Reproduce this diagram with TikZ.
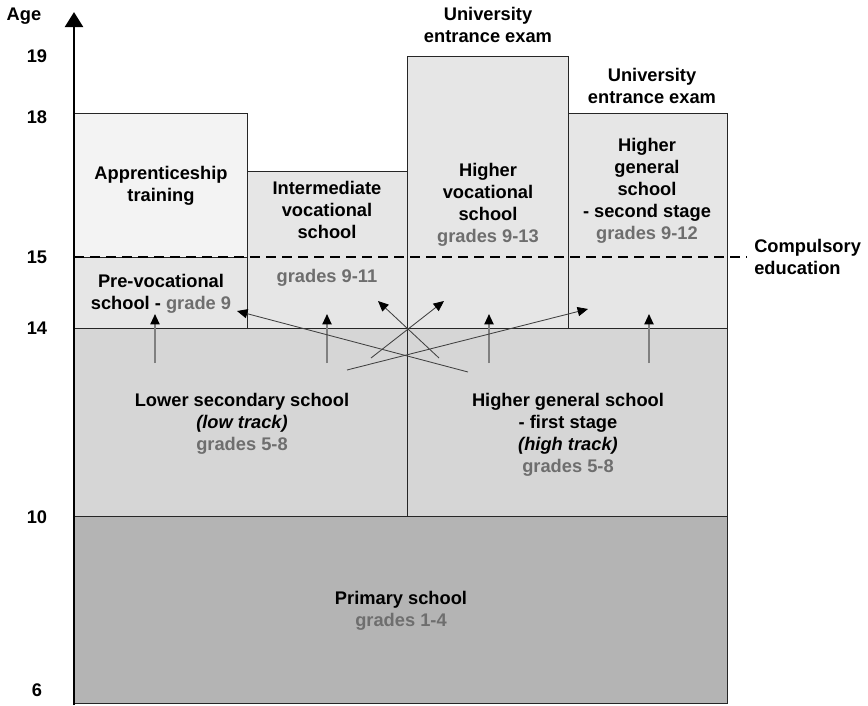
\documentclass[tikz,border=0pt]{standalone}
\usepackage{fontspec}
\setmainfont{Liberation Sans}
\usetikzlibrary{arrows.meta}
\definecolor{primbox}{HTML}{B4B4B4}
\definecolor{lowbox}{HTML}{D6D6D6}
\definecolor{midbox}{HTML}{E6E6E6}
\definecolor{apprbox}{HTML}{F3F3F3}
\definecolor{gtxt}{HTML}{6E6E6E}
\tikzstyle{box}=[draw=black!85,line width=0.7pt]
\tikzstyle{txt}=[font=\bfseries\fontsize{13}{15.6}\selectfont,align=center,inner sep=0pt]
\tikzstyle{trans}=[draw=black!75,line width=0.6pt,-{Triangle[length=2.6mm,width=2.3mm,color=black]}]
\tikzstyle{uptrans}=[trans,draw=black!50,line width=1.1pt]
\tikzstyle{axisline}=[draw=black,line width=2.1pt,-{Triangle[length=3.8mm,width=4.5mm]}]
\tikzstyle{compline}=[draw=black,line width=2.1pt,dash pattern=on 0.25cm off 0.15cm]

\begin{document}
\begin{tikzpicture}[x=0.025cm,y=-0.025cm]
\useasboundingbox (0,0) rectangle (868,705);

% Boxes
    \foreach \xa/\ya/\xb/\yb/\col in {74/516/727/703/primbox, 74/328/407/516/lowbox, 407/328/727/516/lowbox,
        74/113/247/257/apprbox, 74/257/247/328/midbox, 247/171/407/328/midbox,
        407/56/568/328/midbox, 568/113/727/328/midbox}
        \filldraw[box,fill=\col] (\xa,\ya) rectangle (\xb,\yb);

% Compulsory education line
   \coordinate (cl) at (74,257);
   \coordinate (cr) at (747,257);
   \draw[compline] (cl) -- (cr);

% Axis
   \coordinate (axbot) at (74,705);
   \coordinate (axtop) at (74,12);
   \draw[axisline] (axbot) -- (axtop);
   \node[txt] (agelbl) at (24,16) {Age};
    \foreach \yy/\age in {56/19, 117/18, 257/15, 328/14, 517/10, 690/6}
        \node[txt] (age\age) at (37,\yy) {\age};

% Transitions
    \foreach \name/\xx/\yy in {s1/155/363, t1/155/314, s2/327/363, t2/327/314,
        s3/489/363, t3/489/314, s4/649/363, t4/649/314,
        s5/347/370, t5/588/309, s6/468/372, t6/237/311,
        s7/371/358, t7/444/301, s8/439/358, t8/378/301}
        \coordinate (\name) at (\xx,\yy);
    \foreach \source/\dest in {s1/t1, s2/t2, s3/t3, s4/t4}
        \path[uptrans] (\source) -- (\dest);
    \foreach \source/\dest in {s5/t5, s6/t6, s7/t7, s8/t8}
        \path[trans] (\source) -- (\dest);

% Labels
   \node[txt] (exam1) at (488,25) {University\\entrance exam};
   \node[txt] (exam2) at (652,86) {University\\entrance exam};
   \node[txt] (appr) at (161,186) {Apprenticeship\\training};
   \node[txt] (prevoc) at (161,294) {Pre-vocational\\school - \textcolor{gtxt}{grade 9}};
   \node[txt] (intvoc) at (327,210) {Intermediate\\vocational\\school};
   \node[txt] (intgr) at (327,278) {\textcolor{gtxt}{grades 9-11}};
   \node[txt] (highvoc) at (488,205) {Higher\\vocational\\school\\\textcolor{gtxt}{grades 9-13}};
   \node[txt] (highgen2) at (647,191) {Higher\\general\\school\\- second stage\\\textcolor{gtxt}{grades 9-12}};
   \node[txt,anchor=west,align=left] (compuls) at (754,257) {Compulsory\\education};
   \node[txt] (lowsec) at (242,424) {Lower secondary school\\\textit{(low track)}\\\textcolor{gtxt}{grades 5-8}};
   \node[txt] (highgen1) at (568,435) {Higher general school\\- first stage\\\textit{(high track)}\\\textcolor{gtxt}{grades 5-8}};
   \node[txt] (prim) at (401,611) {Primary school\\\textcolor{gtxt}{grades 1-4}};

\end{tikzpicture}
\end{document}
